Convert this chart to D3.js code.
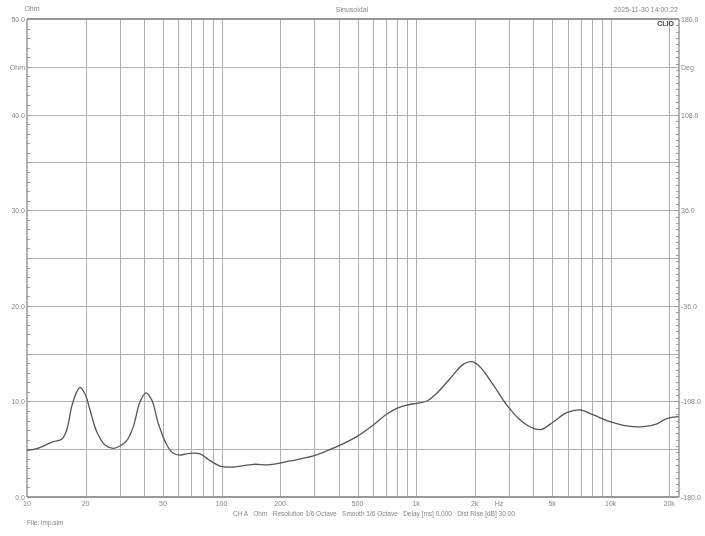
<!DOCTYPE html>
<html>
<head>
<meta charset="utf-8">
<script src="https://cdn.jsdelivr.net/npm/d3@7"></script>
<style>
html,body{margin:0;padding:0;background:#fff;}
svg{display:block;will-change:transform;}
text{font-family:"Liberation Sans",Arial,sans-serif;fill:#858585;}
</style>
</head>
<body>
<svg id="chart" width="705" height="536"></svg>
<script>
// ---- data ----
const freqs = [10, 11.2, 13.65, 15.08, 16.0, 16.97, 18.01, 18.73, 19.88, 21.08, 22.83, 25.18, 27.78, 30.07, 32.56, 35.2, 38.1, 40.9, 43.8, 47.3, 52.3, 56.5, 61.2, 68.9, 77.5, 87.3, 98.2, 115, 145.8, 177.6, 225, 296.5, 391, 495.5, 603, 707, 796, 896, 1009, 1135, 1277, 1496, 1751, 1933, 2133, 2496, 2926, 3427, 4010, 4428, 5082, 5955, 6970, 8163, 9935, 12110, 14750, 17290, 18670, 20230, 22330];
const impedance = [4.88, 5.05, 5.79, 6.03, 7.0, 9.45, 11.0, 11.47, 10.77, 9.1, 6.83, 5.44, 5.09, 5.33, 5.89, 7.36, 9.97, 10.9, 10.15, 7.7, 5.44, 4.57, 4.39, 4.57, 4.5, 3.8, 3.24, 3.14, 3.42, 3.38, 3.77, 4.29, 5.26, 6.31, 7.53, 8.68, 9.28, 9.62, 9.8, 10.04, 10.85, 12.4, 13.9, 14.15, 13.6, 11.7, 9.62, 8.05, 7.18, 7.08, 7.88, 8.82, 9.1, 8.58, 7.88, 7.43, 7.36, 7.64, 8.05, 8.3, 8.4];
const xTickValues = [10, 20, 50, 100, 200, 500, 1000, 2000, 5000, 10000, 20000];
const xTickLabels = ["10", "20", "50", "100", "200", "500", "1k", "2k", "5k", "10k", "20k"];
const xGridValues = [20,30,40,50,60,70,80,90,100,200,300,400,500,600,700,800,900,1000,2000,3000,4000,5000,6000,7000,8000,9000,10000,20000];
const yLeftTicks = [0, 10, 20, 30, 40, 50];
const yLeftLabels = ["0.0", "10.0", "20.0", "30.0", "40.0", "50.0"];
const yRightTicks = [-180, -108, -36, 36, 108, 180];
const yRightLabels = ["-180.0", "-108.0", "-36.0", "36.0", "108.0", "180.0"];

// ---- layout ----
const L = 27, R = 679, T = 19, B = 497;
const svg = d3.select("#chart");
const x = d3.scaleLog().domain([10, 22450]).range([L, R]);
const y = d3.scaleLinear().domain([0, 50]).range([B, T]);
const yR = d3.scaleLinear().domain([-180, 180]).range([B, T]);

// horizontal grid every 5
const hg = d3.range(5, 50, 5);
svg.append("g").selectAll("line").data(hg).join("line")
  .attr("x1", L).attr("x2", R)
  .attr("y1", d => Math.round(y(d)) + 0.5).attr("y2", d => Math.round(y(d)) + 0.5)
  .attr("stroke", "#b0b0b0").attr("stroke-width", 1);

// vertical grid
svg.append("g").selectAll("line").data(xGridValues).join("line")
  .attr("x1", d => Math.round(x(d)) + 0.5).attr("x2", d => Math.round(x(d)) + 0.5)
  .attr("y1", T).attr("y2", B)
  .attr("stroke", "#b0b0b0").attr("stroke-width", 1);

// left minor ticks
svg.append("g").selectAll("line").data(d3.range(0, 51, 1)).join("line")
  .attr("x1", L).attr("x2", L + 3)
  .attr("y1", d => Math.round(y(d)) + 0.5).attr("y2", d => Math.round(y(d)) + 0.5)
  .attr("stroke", "#999");
// right minor ticks
svg.append("g").selectAll("line").data(d3.range(-180, 180.01, 4.8)).join("line")
  .attr("x1", R - 3).attr("x2", R)
  .attr("y1", d => Math.round(yR(d)) + 0.5).attr("y2", d => Math.round(yR(d)) + 0.5)
  .attr("stroke", "#999");

// frame
svg.append("line").attr("x1", L).attr("x2", R).attr("y1", T).attr("y2", T).attr("stroke", "#999").attr("stroke-width", 2);
svg.append("line").attr("x1", L).attr("x2", R).attr("y1", B).attr("y2", B).attr("stroke", "#999").attr("stroke-width", 2);
svg.append("line").attr("x1", L).attr("x2", L).attr("y1", T).attr("y2", B).attr("stroke", "#999").attr("stroke-width", 1.5);
svg.append("line").attr("x1", R).attr("x2", R).attr("y1", T).attr("y2", B).attr("stroke", "#999").attr("stroke-width", 1.5);

// curve
const pts = freqs.map((f, i) => [f, impedance[i]]);
svg.append("path").datum(pts)
  .attr("fill", "none").attr("stroke", "#555").attr("stroke-width", 1.3)
  .attr("d", d3.line().x(d => x(d[0])).y(d => y(d[1])).curve(d3.curveCatmullRom.alpha(0.5)));

// left labels
svg.append("g").selectAll("text").data(yLeftTicks).join("text")
  .attr("x", L - 2).attr("y", d => y(d) + 3)
  .attr("text-anchor", "end").attr("font-size", 7).text((d, i) => yLeftLabels[i]);
svg.append("text").attr("x", L - 2).attr("y", y(45) + 3).attr("text-anchor", "end").attr("font-size", 7).text("Ohm");
svg.append("text").attr("x", 32).attr("y", 11).attr("text-anchor", "middle").attr("font-size", 7).text("Ohm");

// right labels
svg.append("g").selectAll("text").data(yRightTicks).join("text")
  .attr("x", R + 2).attr("y", d => yR(d) + 3)
  .attr("text-anchor", "start").attr("font-size", 7).text((d, i) => yRightLabels[i]);
svg.append("text").attr("x", R + 2).attr("y", y(45) + 3).attr("text-anchor", "start").attr("font-size", 7).text("Deg");

// x labels
svg.append("g").selectAll("text").data(xTickValues).join("text")
  .attr("x", d => x(d)).attr("y", 506)
  .attr("text-anchor", "middle").attr("font-size", 7).text((d, i) => xTickLabels[i]);
svg.append("text").attr("x", 499).attr("y", 506).attr("text-anchor", "middle").attr("font-size", 7).text("Hz");

// header
svg.append("text").attr("x", 352).attr("y", 12).attr("text-anchor", "middle").attr("font-size", 7).text("Sinusoidal");
svg.append("text").attr("x", 678).attr("y", 12).attr("text-anchor", "end").attr("font-size", 7).text("2025-11-30 14:00:22");
svg.append("text").attr("x", 674).attr("y", 26).attr("text-anchor", "end").attr("font-size", 7)
  .attr("font-weight", "bold").style("fill", "#444").text("CLIO");

// footer
svg.append("text").attr("x", 233).attr("y", 516).attr("font-size", 6.5)
  .attr("xml:space", "preserve")
  .text("CH A   Ohm   Resolution 1/6 Octave   Smooth 1/6 Octave   Delay [ms] 0.000   Dist Rise [dB] 30.00");
svg.append("text").attr("x", 27).attr("y", 525).attr("font-size", 6.5).text("File: imp.sim");
</script>
</body>
</html>
